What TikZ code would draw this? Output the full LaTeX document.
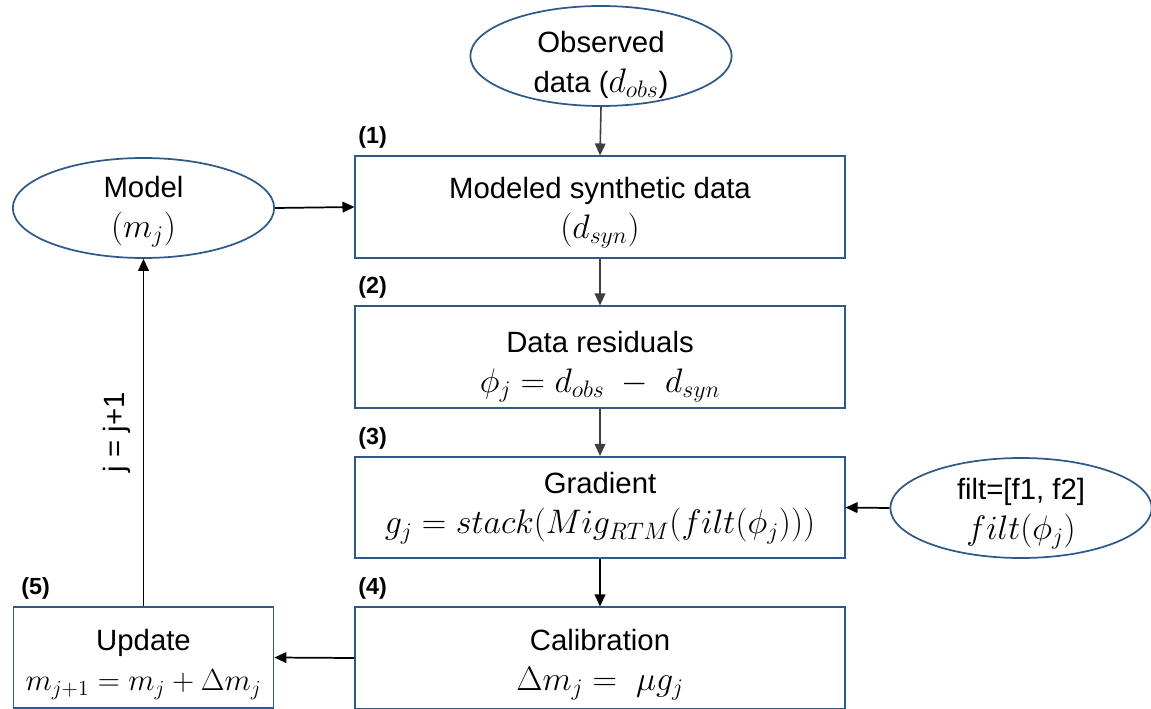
\documentclass[tikz,border=0pt]{standalone}
\usepackage{fix-cm}
\usepackage{fontspec}
\setmainfont{Liberation Sans}
\usetikzlibrary{arrows.meta,shapes.geometric}
\definecolor{edgeblue}{HTML}{2F5A87}
\definecolor{flowgray}{HTML}{3F3F3F}
% formulas are set a little larger than the labels above them
\newcommand{\eqline}[2][25.5]{{\fontsize{#1}{30}\selectfont$#2$}}
\tikzset{
  every node/.style={font=\fontsize{22}{30}\selectfont, text=black, align=center},
  stepbox/.style={draw=edgeblue, line width=1.3pt, rectangle, minimum width=367pt, minimum height=76pt, inner sep=0pt},
  updbox/.style={draw=edgeblue, line width=1.3pt, rectangle, minimum width=195pt, minimum height=76pt, inner sep=0pt},
  oval/.style={draw=edgeblue, line width=1.3pt, ellipse, minimum width=196pt, minimum height=75pt, inner sep=0pt},
  tag/.style={font=\fontsize{17.5}{20}\selectfont\bfseries, anchor=west, inner sep=0pt},
  flow/.style={-{Triangle[length=9pt,width=8pt]}, line width=1.2pt, draw=flowgray},
  flowk/.style={-{Triangle[length=9pt,width=8pt]}, line width=1.3pt, draw=black}
}
\begin{document}
\begin{tikzpicture}[x=0.75pt,y=-0.75pt]
\useasboundingbox (0,0) rectangle (1151,709);
% inputs
\node[oval, label={[yshift=-6.5pt]center:{Observed\\data (\eqline{d_{obs}})}}] (obs) at (601,56) {};
\node[oval, label={[yshift=-3pt]center:{Model\\\eqline{(m_j)}}}] (model) at (143.5,208) {};
\node[oval, label={[yshift=-4.5pt]center:{filt=[f1, f2]\\\eqline{filt(\phi_j)}}}] (filt) at (1021,508) {};
% processing steps
\node[stepbox, label={[yshift=-4.5pt]center:{Modeled synthetic data\\\eqline{(d_{syn})}}}] (syn) at (600,207) {};
\node[stepbox, label={[yshift=-7pt]center:{Data residuals\\\eqline{\phi_j = d_{obs}\; -\; d_{syn}}}}] (res) at (600,357) {};
\node[stepbox, label={[yshift=-0.5pt]center:{Gradient\\\eqline{g_j = stack(Mig_{RTM}\bigl(filt(\phi_j)\bigr))}}}] (grad) at (600,507.5) {};
\node[stepbox, label={[yshift=-5pt]center:{Calibration\\\eqline{\Delta m_j =\; \mu g_j}}}] (cal) at (600,658) {};
\node[updbox, label={[yshift=-5pt]center:{Update\\\eqline[23]{m_{j+1} = m_j + \Delta m_j}}}] (upd) at (143.5,657.5) {};
% step numbers
\node[tag] (t1) at (358,137) {(1)};
\node[tag] (t2) at (358,287) {(2)};
\node[tag] (t3) at (358,438) {(3)};
\node[tag] (t4) at (358,588) {(4)};
\node[tag] (t5) at (21,588) {(5)};
% connectors
\draw[flow] (obs.south) -- (syn.north);
\draw[flow] (syn.south) -- (res.north);
\draw[flow] (res.south) -- (grad.north);
\draw[flowk] (grad.south) -- (cal.north);
\draw[flowk] (model.east) -- (syn.west);
\draw[flowk] (filt.west) -- (grad.east);
\draw[flowk] (cal.west) -- (upd.east);
\draw[flowk] (upd.north) -- node[left=6pt, rotate=90, anchor=south] (iter) {j = j+1} (model.south);
\end{tikzpicture}
\end{document}
